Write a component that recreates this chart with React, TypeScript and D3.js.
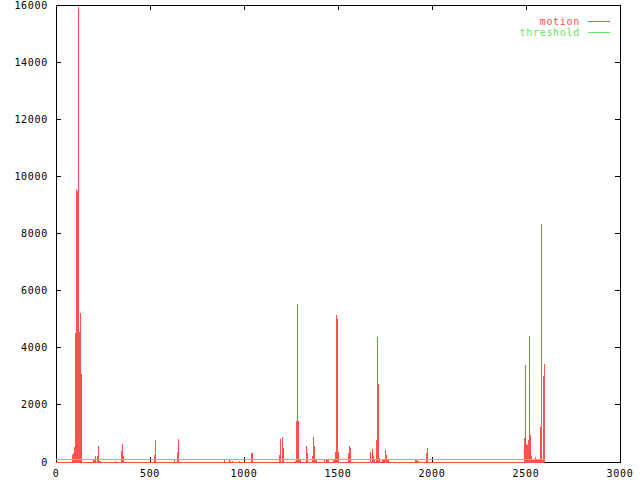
import React from "react";
import * as d3 from "d3";

const frames = [0, 85, 90, 96, 101, 106, 112, 117, 122, 128, 133, 138, 197, 207, 213, 218, 223, 229, 240, 314, 319, 346, 351, 356, 362, 521, 527, 532, 628, 633, 644, 649, 654, 894, 899, 920, 926, 931, 936, 941, 973, 979, 1037, 1048, 1186, 1191, 1197, 1202, 1207, 1213, 1271, 1277, 1282, 1287, 1293, 1298, 1303, 1330, 1335, 1340, 1362, 1367, 1372, 1378, 1388, 1426, 1431, 1436, 1447, 1452, 1473, 1484, 1489, 1495, 1500, 1505, 1553, 1559, 1564, 1569, 1670, 1676, 1681, 1686, 1691, 1697, 1702, 1707, 1713, 1718, 1723, 1734, 1750, 1755, 1761, 1771, 1910, 1915, 1920, 1931, 1968, 1973, 1979, 2489, 2495, 2500, 2505, 2511, 2516, 2521, 2527, 2532, 2537, 2548, 2553, 2574, 2580, 2585, 2590, 2596, 2601];
const motion = [0, 245, 315, 535, 4530, 9560, 9490, 15940, 4550, 5230, 3090, 0, 95, 210, 0, 210, 570, 40, 0, 40, 0, 395, 640, 220, 0, 255, 770, 0, 80, 0, 360, 805, 0, 70, 0, 70, 30, 0, 40, 0, 40, 0, 325, 0, 255, 805, 0, 875, 490, 0, 40, 1435, 5530, 1435, 70, 100, 0, 560, 315, 0, 210, 875, 560, 70, 0, 70, 0, 100, 70, 0, 70, 350, 5150, 5010, 350, 0, 315, 560, 490, 0, 350, 0, 455, 210, 70, 0, 770, 4380, 2730, 140, 0, 70, 420, 245, 70, 0, 70, 105, 35, 0, 315, 490, 0, 840, 3400, 630, 595, 770, 4410, 945, 210, 70, 100, 175, 100, 1225, 8330, 100, 3010, 3430, 3430];
const thresholdValue = 100;

const xTicks = [0, 500, 1000, 1500, 2000, 2500, 3000];
const yTicks = [0, 2000, 4000, 6000, 8000, 10000, 12000, 14000, 16000];
const seriesNames = ["motion", "threshold"];

const W = 640;
const H = 480;
const left = 56;
const right = 620;
const top = 5;
const bottom = 462;
const RED = "#ff5050";
const GREEN = "#5ee85e";
const FONT = "'DejaVu Sans Mono', monospace";

export default function App() {
  const x = d3.scaleLinear().domain([0, 3000]).range([left, right]);
  const y = d3.scaleLinear().domain([0, 16000]).range([bottom, top]);
  const pts: [number, number][] = frames.map((f, i) => [f, motion[i]]);
  const area = d3
    .area<[number, number]>()
    .x((d) => x(d[0]))
    .y0(y(0))
    .y1((d) => y(d[1]))
    .curve(d3.curveStepAfter);
  const first = frames[0];
  const last = frames[frames.length - 1];
  const tick = 5;
  return (
    <svg
      width={W}
      height={H}
      style={{ position: "absolute", left: 0, top: 0, background: "#fff" }}
      fontFamily={FONT}
      fontSize={10}
      letterSpacing={0.7}
    >
      <rect x={0} y={0} width={W} height={H} fill="#fff" />
      <g stroke="#000" strokeWidth={1} shapeRendering="crispEdges">
        <rect x={left} y={top} width={right - left} height={bottom - top} fill="none" />
        {yTicks.map((t) => (
          <g key={"y" + t}>
            <line x1={left} x2={left + tick} y1={y(t)} y2={y(t)} />
            <line x1={right - tick} x2={right} y1={y(t)} y2={y(t)} />
          </g>
        ))}
        {xTicks.map((t) => (
          <g key={"x" + t}>
            <line x1={x(t)} x2={x(t)} y1={bottom} y2={bottom - tick} />
            <line x1={x(t)} x2={x(t)} y1={top} y2={top + tick} />
          </g>
        ))}
      </g>
      {yTicks.map((t) => (
        <text key={"yl" + t} x={48} y={y(t)} textAnchor="end" dominantBaseline="central" fill="#000">
          {t}
        </text>
      ))}
      {xTicks.map((t) => (
        <text key={"xl" + t} x={x(t)} y={473} textAnchor="middle" dominantBaseline="central" fill="#000">
          {t}
        </text>
      ))}
      <path d={area(pts) || ""} fill={RED} stroke="none" shapeRendering="crispEdges" />
      <line
        x1={x(first)}
        x2={x(last)}
        y1={y(0)}
        y2={y(0)}
        stroke={RED}
        strokeWidth={1}
        shapeRendering="crispEdges"
      />
      <line
        x1={x(first)}
        x2={x(last)}
        y1={y(thresholdValue)}
        y2={y(thresholdValue)}
        stroke={GREEN}
        strokeWidth={1}
        shapeRendering="crispEdges"
      />
      {seriesNames.map((name, i) => {
        const cy = 21.5 + i * 11;
        const c = i === 0 ? RED : GREEN;
        return (
          <g key={name}>
            <text x={580} y={cy} textAnchor="end" dominantBaseline="central" fill={c}>
              {name}
            </text>
            <line x1={588} x2={610} y1={cy} y2={cy} stroke={c} strokeWidth={1} shapeRendering="crispEdges" />
          </g>
        );
      })}
    </svg>
  );
}
